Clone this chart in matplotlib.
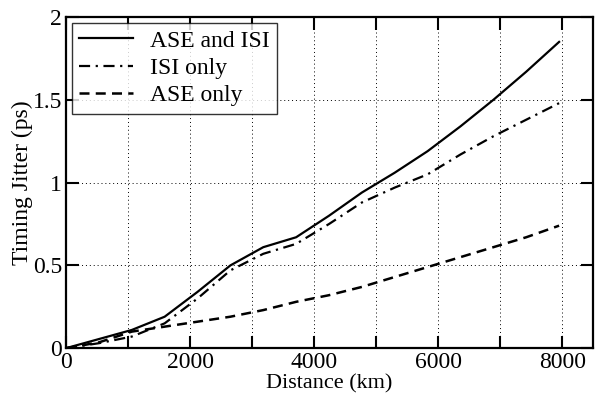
import matplotlib
matplotlib.use("Agg")
import matplotlib.pyplot as plt
from matplotlib.ticker import MultipleLocator, FuncFormatter

# ---------- Data ----------
distance = [0, 530, 1060, 1590, 2120, 2650, 3180, 3710, 4240, 4770,
            5300, 5830, 6360, 6890, 7420, 7950]
ase_and_isi = [0, 0.055, 0.11, 0.19, 0.34, 0.50, 0.61, 0.67, 0.80, 0.94,
               1.06, 1.19, 1.34, 1.50, 1.67, 1.85]
isi_only = [0, 0.03, 0.07, 0.15, 0.30, 0.47, 0.57, 0.63, 0.75, 0.88,
            0.97, 1.05, 1.17, 1.28, 1.38, 1.48]
ase_only = [0, 0.035, 0.10, 0.13, 0.16, 0.19, 0.23, 0.28, 0.32, 0.37,
            0.43, 0.49, 0.55, 0.61, 0.67, 0.74]

# ---------- Style ----------
plt.rcParams['font.family'] = ['Liberation Serif', 'DejaVu Serif']

fig = plt.figure(figsize=(5.95, 3.97), dpi=100)
ax = fig.add_axes([0.111, 0.123, 0.886, 0.834])

ax.plot(distance, ase_and_isi, color='k', lw=1.6, ls='-', label='ASE and ISI')
ax.plot(distance, isi_only, color='k', lw=1.6, ls=(0, (5, 2.5, 1, 2.5)), label='ISI only')
ax.plot(distance, ase_only, color='k', lw=1.8, ls=(0, (4, 2.5)), label='ASE only')

ax.set_xlim(0, 8500)
ax.set_ylim(0, 2)
ax.xaxis.set_major_locator(MultipleLocator(1000))
ax.yaxis.set_major_locator(MultipleLocator(0.5))
ax.xaxis.set_major_formatter(FuncFormatter(lambda v, p: f"{int(v)}" if int(v) % 2000 == 0 else ""))
ax.yaxis.set_major_formatter(FuncFormatter(lambda v, p: f"{v:g}"))

ax.grid(True, color='k', linestyle=(0, (1, 3)), linewidth=0.7)
ax.tick_params(axis='both', direction='in', length=9, width=1.5, labelsize=17,
               top=True, right=True, pad=3)
for s in ax.spines.values():
    s.set_linewidth(1.6)

ax.set_xlabel('Distance (km)', fontsize=16, labelpad=1)
ax.set_ylabel('Timing Jitter (ps)', fontsize=17, labelpad=0)

leg = ax.legend(loc='upper left', fontsize=17, frameon=True, fancybox=False,
                edgecolor='k', handlelength=2.3, borderpad=0.3, labelspacing=0.25,
                handletextpad=0.7, borderaxespad=0.25)
leg.get_frame().set_linewidth(1.0)

fig.savefig('out.png', dpi=100)
